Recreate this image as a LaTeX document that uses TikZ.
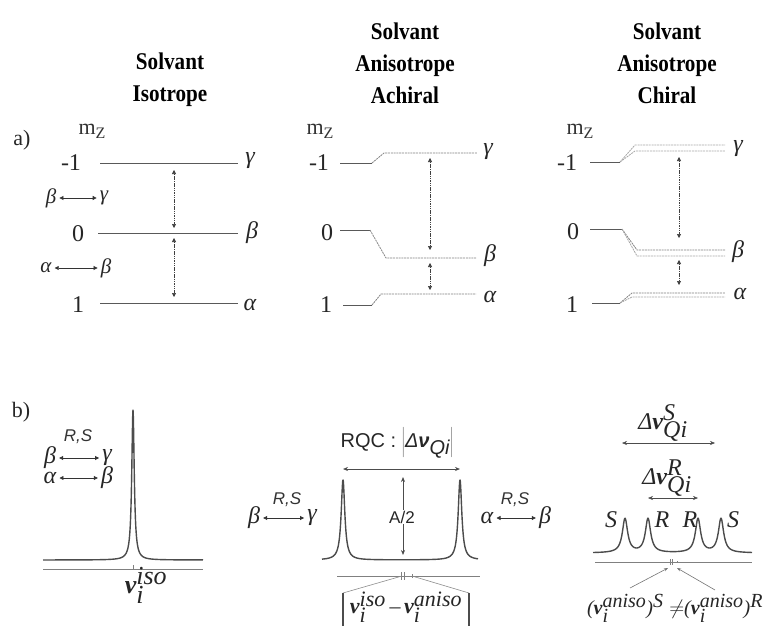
\documentclass[tikz,border=0pt]{standalone}
\usepackage{fontspec}
\setmainfont{Liberation Serif}
\setsansfont{Liberation Sans}
\newfontfamily\headfont[FakeStretch=0.88]{Liberation Serif}
\usetikzlibrary{arrows.meta}

\newcommand\nusym{\textbf{\textit{ν}}}
\newcommand\peakfn[3]{#3/(1+((\x-#1)/#2)^2)}

\begin{document}
\begin{tikzpicture}[x=1pt, y=-1pt,
    head/.style   = {font=\headfont\bfseries\fontsize{24}{32}\selectfont, align=center, inner sep=0pt},
    lbl/.style    = {font=\fontsize{24}{26}\selectfont, inner sep=0pt, text=black!85},
    glbl/.style   = {font=\fontsize{24}{26}\selectfont\itshape, inner sep=0pt, text=black!85},
    small/.style  = {font=\fontsize{21}{24}\selectfont\itshape, inner sep=0pt, text=black!85},
    nulbl/.style  = {font=\fontsize{26}{28}\selectfont\itshape, inner sep=0pt, text=black!85},
    mz/.style     = {font=\fontsize{22}{24}\selectfont, inner sep=0pt, text=black!80},
    rs/.style     = {font=\sffamily\itshape\fontsize{17}{19}\selectfont, inner sep=0pt, text=black!80},
    sans/.style   = {font=\sffamily\fontsize{20}{22}\selectfont, inner sep=0pt, text=black!85},
    level/.style  = {draw=black!65, line width=1pt},
    shifted/.style= {draw=black!50, line width=0.8pt, dash pattern=on 2pt off 0.8pt},
    faint/.style  = {draw=black!35, line width=0.8pt, dash pattern=on 2pt off 0.8pt},
    gap/.style    = {draw=black!75, line width=0.6pt, dash pattern=on 1.5pt off 0.8pt,
                     {Triangle[length=4pt,width=4pt]}-{Triangle[length=4pt,width=4pt]}},
    trans/.style  = {draw=black!80, line width=0.7pt,
                     {Triangle[length=4pt,width=4pt]}-{Triangle[length=4pt,width=4pt]}},
    span/.style   = {draw=black!70, line width=0.7pt,
                     {Stealth[length=5pt,width=4pt]}-{Stealth[length=5pt,width=4pt]}},
    spec/.style   = {draw=black!70, line width=1.4pt, line join=round},
    axis/.style   = {draw=black!50, line width=0.8pt},
    pointer/.style= {draw=black!55, line width=0.6pt, -{Stealth[length=4pt,width=3pt]}},
  ]
  \useasboundingbox (0,0) rectangle (763,626);

  % column headings
  \node[head] (t1) at (170,80) {Solvant\\Isotrope};
  \node[head] (t2) at (405,63) {Solvant\\Anisotrope\\Achiral};
  \node[head] (t3) at (667,63) {Solvant\\Anisotrope\\Chiral};

  % a) isotropic levels
  \node[lbl, font=\fontsize{22}{24}\selectfont] (pa) at (22,140) {a)};
  \node[mz] (mz1) at (92,131) {m\raisebox{-0.4ex}{\fontsize{16}{16}\selectfont Z}};
  \node[lbl] (i1) at (71,163) {-1};
  \node[lbl] (i0) at (78,234) {0};
  \node[lbl] (ip) at (78,305) {1};
  \draw[level] (100,163) -- (238,163);
  \draw[level] (98,233) -- (238,233);
  \draw[level] (100,303) -- (238,303);
  \node[glbl] (g1) at (250,161) {γ};
  \node[glbl] (b1) at (252,233) {β};
  \node[glbl] (a1) at (250,305) {α};
  \coordinate (u1) at (174,170); \coordinate (d1) at (174,228);
  \coordinate (u2) at (174,238); \coordinate (d2) at (174,297);
  \draw[gap] (u1) -- (d1);
  \draw[gap] (u2) -- (d2);
  \node[small] (bgb) at (51,198) {β};
  \node[small] (bgg) at (104,198) {γ};
  \node[small] (abb) at (46,268) {α};
  \node[small] (aba) at (106,268) {β};
  \draw[trans] ([xshift=3pt]bgb.east) -- ([xshift=-3pt]bgg.west);
  \draw[trans] ([xshift=3pt]abb.east) -- ([xshift=-3pt]aba.west);

  % a) anisotropic achiral levels
  \node[mz] (mz2) at (320,131) {m\raisebox{-0.4ex}{\fontsize{16}{16}\selectfont Z}};
  \node[lbl] (j1) at (319,163) {-1};
  \node[lbl] (j0) at (327,233) {0};
  \node[lbl] (jp) at (326,305) {1};
  \draw[level] (340,163) -- (372,163);
  \draw[shifted] (372,163) -- (384,153) -- (477,153);
  \draw[level] (340,230) -- (370,230);
  \draw[shifted] (370,230) -- (386,258) -- (476,258);
  \draw[level] (343,305) -- (372,305);
  \draw[shifted] (372,305) -- (381,294) -- (476,294);
  \node[glbl] (g2) at (488,152) {γ};
  \node[glbl] (b2) at (490,256) {β};
  \node[glbl] (a2) at (490,297) {α};
  \coordinate (u3) at (430,158); \coordinate (d3) at (430,250);
  \coordinate (u4) at (430,263); \coordinate (d4) at (430,290);
  \draw[gap] (u3) -- (d3);
  \draw[gap] (u4) -- (d4);

  % a) anisotropic chiral levels
  \node[mz] (mz3) at (580,131) {m\raisebox{-0.4ex}{\fontsize{16}{16}\selectfont Z}};
  \node[lbl] (k1) at (567,163) {-1};
  \node[lbl] (k0) at (573,232) {0};
  \node[lbl] (kp) at (572,305) {1};
  \draw[level] (590,162) -- (620,162);
  \draw[faint] (620,162) -- (635,145) -- (725,145);
  \draw[faint] (620,162) -- (635,151) -- (725,151);
  \draw[level] (590,229) -- (622,229);
  \draw[shifted] (622,229) -- (637,250) -- (725,250);
  \draw[faint] (622,229) -- (637,256) -- (725,256);
  \draw[level] (592,303) -- (620,303);
  \draw[shifted] (620,303) -- (632,293) -- (725,293);
  \draw[faint] (620,303) -- (632,297) -- (725,297);
  \node[glbl] (g3) at (738,149) {γ};
  \node[glbl] (b3) at (738,252) {β};
  \node[glbl] (a3) at (740,294) {α};
  \coordinate (u5) at (679,157); \coordinate (d5) at (679,238);
  \coordinate (u6) at (679,260); \coordinate (d6) at (679,285);
  \draw[gap] (u5) -- (d5);
  \draw[gap] (u6) -- (d6);

  % b) isotropic spectrum
  \node[lbl, font=\fontsize{22}{24}\selectfont] (pb) at (21,412) {b)};
  \node[rs] (rs1) at (78,437) {R,S};
  \node[glbl] (sbb) at (50,458) {β};
  \node[glbl] (sbg) at (107,458) {γ};
  \node[glbl] (saa) at (50,478) {α};
  \node[glbl] (sab) at (107,478) {β};
  \draw[trans] ([xshift=3pt]sbb.east) -- ([xshift=-3pt]sbg.west);
  \draw[trans] ([xshift=3pt]saa.east) -- ([xshift=-3pt]sab.west);
  \draw[spec] plot[domain=43:203, samples=801] (\x, {560-\peakfn{133}{1.5}{150}});
  \draw[axis] (43,569) -- (203,569);
  \draw[axis] (133,569) -- (133,565);
  \node[nulbl] (niso) at (146,585) {$\nusym_{\textit{i}}^{\textit{iso}}$};

  % b) achiral spectrum
  \node[sans] (rqc) at (397,443) {RQC : $\left|\textit{Δ}\nusym_{\textit{Qi}}\right|$};
  \coordinate (q1) at (343,469); \coordinate (q2) at (460,469);
  \draw[span] (q1) -- (q2);
  \draw[spec] plot[domain=322:478, samples=801]
    (\x, {560-\peakfn{343}{2.2}{80}-\peakfn{460}{2.2}{80}});
  \coordinate (h1) at (403,477); \coordinate (h2) at (403,555);
  \draw[span] (h1) -- (h2);
  \node[sans, font=\sffamily\fontsize{17}{19}\selectfont, fill=white, inner sep=1pt] (half) at (402,517) {A/2};
  \draw[axis] (337,576) -- (480,576);
  \coordinate (m1) at (402,576); \coordinate (m2) at (412,576);
  \draw[axis, line width=0.6pt] (401,572) -- (401,580) (404,572) -- (404,580) (412,574) -- (412,578);
  \node[nulbl, font=\fontsize{22}{24}\selectfont\itshape] (diff) at (406,607) {$\nusym_{\textit{i}}^{\textit{iso}}$\,–\,$\nusym_{\textit{i}}^{\textit{aniso}}$};
  \coordinate (bl) at (343,593); \coordinate (br) at (469,593);
  \draw[draw=black!45, line width=0.6pt] (m1) -- (bl) (m2) -- (br);
  \draw[draw=black!70, line width=1.2pt] (bl) -- ++(0,40) (br) -- ++(0,40);
  \node[rs] (rs2) at (287,500) {R,S};
  \node[glbl] (lb) at (254,518) {β};
  \node[glbl] (lg) at (312,518) {γ};
  \draw[trans] ([xshift=3pt]lb.east) -- ([xshift=-3pt]lg.west);
  \node[rs] (rs3) at (515,500) {R,S};
  \node[glbl] (ra) at (487,518) {α};
  \node[glbl] (rb) at (545,518) {β};
  \draw[trans] ([xshift=3pt]ra.east) -- ([xshift=-3pt]rb.west);

  % b) chiral spectrum
  \node[lbl] (dqs) at (663,423) {$\textit{Δ}\nusym_{\textit{Qi}}^{\textit{S}}$};
  \coordinate (s1) at (622,443); \coordinate (s2) at (715,443);
  \draw[span, line width=0.5pt] (s1) -- (s2);
  \node[lbl] (dqr) at (667,478) {$\textit{Δ}\nusym_{\textit{Qi}}^{\textit{R}}$};
  \coordinate (r1) at (648,498); \coordinate (r2) at (698,498);
  \draw[span, line width=0.5pt] (r1) -- (r2);
  \draw[spec] plot[domain=593:752, samples=801]
    (\x, {553-\peakfn{625}{3.2}{34}-\peakfn{648}{3.2}{34}-\peakfn{698}{3.2}{34}-\peakfn{721}{3.2}{34}});
  \node[glbl] (sl) at (611,520) {S};
  \node[glbl] (rl) at (662,520) {R};
  \node[glbl] (rr) at (690,520) {R};
  \node[glbl] (sr) at (733,520) {S};
  \draw[axis] (595,562) -- (752,562);
  \draw[axis, line width=0.6pt] (670,559) -- (670,565) (672,559) -- (672,565) (677,561) -- (677,563);
  \coordinate (c1) at (668,568); \coordinate (c2) at (677,568);
  \coordinate (e1) at (630,588); \coordinate (e2) at (715,590);
  \draw[pointer] (e1) -- (c1);
  \draw[pointer] (e2) -- (c2);
  \node[glbl, font=\fontsize{20}{22}\selectfont\itshape] (neq) at (675,608) {($\nusym_{\textit{i}}^{\textit{aniso}}$)$^{\textit{S}}\neq$($\nusym_{\textit{i}}^{\textit{aniso}}$)$^{\textit{R}}$};
\end{tikzpicture}
\end{document}
